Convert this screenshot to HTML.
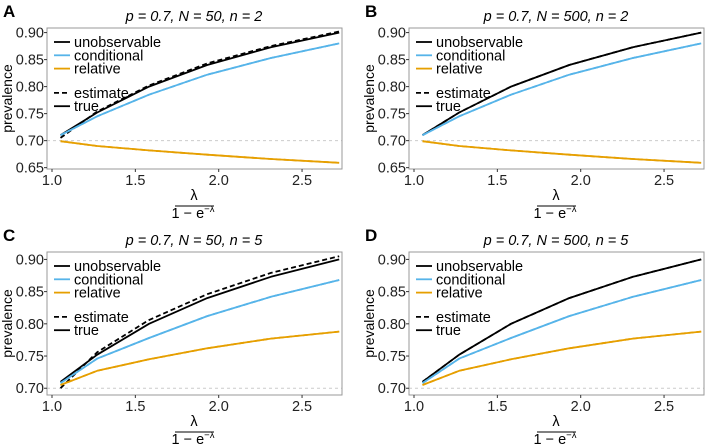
<!DOCTYPE html>
<html><head><meta charset="utf-8"><style>
body{margin:0;background:#fff}
svg{display:block;font-family:"Liberation Sans",sans-serif}
</style></head><body>
<svg id="s" width="708" height="447" viewBox="0 0 708 447"></svg>
<script>
const xs=[1.051,1.271,1.582,1.931,2.313,2.723];
const xTicks=[1.0,1.5,2.0,2.5];
const titles=["p = 0.7, N = 50, n = 2","p = 0.7, N = 500, n = 2","p = 0.7, N = 50, n = 5","p = 0.7, N = 500, n = 5"];
const letters=["A","B","C","D"];
const yTicksTop=[0.65,0.70,0.75,0.80,0.85,0.90];
const yTicksBot=[0.70,0.75,0.80,0.85,0.90];
const unobTrue=[0.710,0.752,0.800,0.840,0.873,0.900];
const unobEstA=[0.705,0.754,0.802,0.843,0.875,0.902];
const unobEstC=[0.700,0.756,0.806,0.846,0.879,0.905];
const condTop=[0.710,0.745,0.785,0.822,0.853,0.880];
const condBot=[0.708,0.746,0.778,0.812,0.842,0.868];
const relTop=[0.699,0.690,0.682,0.674,0.666,0.659];
const relBot=[0.705,0.727,0.745,0.762,0.777,0.788];
const C={unob:"#000",cond:"#56B4E9",rel:"#E69F00"};
const S=document.getElementById('s');const NS="http://www.w3.org/2000/svg";
function el(t,a,p){const e=document.createElementNS(NS,t);for(const k in a)e.setAttribute(k,a[k]);(p||S).appendChild(e);return e;}
const panels=[
 {ox:0,oy:0,ymin:0.6475,ymax:0.9085,ticks:yTicksTop,series:[["unob",unobTrue,unobEstA],["cond",condTop,condTop],["rel",relTop,relTop]]},
 {ox:362,oy:0,ymin:0.6475,ymax:0.9085,ticks:yTicksTop,series:[["unob",unobTrue,unobTrue],["cond",condTop,condTop],["rel",relTop,relTop]]},
 {ox:0,oy:224,ymin:0.6895,ymax:0.9115,ticks:yTicksBot,series:[["unob",unobTrue,unobEstC],["cond",condBot,condBot],["rel",relBot,relBot]]},
 {ox:362,oy:224,ymin:0.6895,ymax:0.9115,ticks:yTicksBot,series:[["unob",unobTrue,unobTrue],["cond",condBot,condBot],["rel",relBot,relBot]]}];
panels.forEach((P,i)=>{
 const g=el('g',{transform:`translate(${P.ox},${P.oy})`});
 
 
 const L=47,R=342,T=28,B=i<2?169:171;
 const X=v=>52+(v-1)*166.7, Y=v=>B-(v-P.ymin)/(P.ymax-P.ymin)*(B-T);
 const lt=el('text',{x:3,y:17,'font-size':17,'font-weight':'bold'},g);lt.textContent=letters[i];
 
 const tt=el('text',{x:194,y:21,'font-size':14.5,'font-style':'italic','text-anchor':'middle'},g);tt.textContent=titles[i];
 
 el('line',{x1:L,x2:R,y1:Y(0.7),y2:Y(0.7),stroke:'#ccc','stroke-dasharray':'3,3','stroke-width':1},g);
 P.series.forEach(([k,tr,es])=>{
  const pt=a=>a.map((v,j)=>X(xs[j]).toFixed(1)+','+Y(v).toFixed(1)).join(' ');
  const p1=el('polyline',{points:pt(tr),fill:'none',stroke:C[k],'stroke-width':1.8,'stroke-linejoin':'round'},g);
  
  const p2=el('polyline',{points:pt(es),fill:'none',stroke:C[k],'stroke-width':1.8,'stroke-dasharray':'5,3'},g);
  
 });
 el('rect',{x:L,y:T,width:R-L,height:B-T,fill:'none',stroke:'#999','stroke-width':1},g);
 P.ticks.forEach(v=>{
  el('line',{x1:L-3,x2:L,y1:Y(v),y2:Y(v),stroke:'#333'},g);
  const t=el('text',{x:L-3,y:Y(v)+5,'font-size':14.5,'text-anchor':'end',fill:'#222'},g);t.textContent=v.toFixed(2);
  
 });
 xTicks.forEach(v=>{
  el('line',{x1:X(v),x2:X(v),y1:B,y2:B+3,stroke:'#333'},g);
  const t=el('text',{x:X(v),y:B+16,'font-size':14.5,'text-anchor':'middle',fill:'#222'},g);t.textContent=v.toFixed(1);
  
 });
 const yl=el('text',{transform:`translate(12,${(T+B)/2}) rotate(-90)`,'font-size':14,'text-anchor':'middle'},g);yl.textContent='prevalence';
 
 const xl=el('g',{},g);
 const a=el('text',{x:194,y:B+31,'font-size':14.5,'text-anchor':'middle'},xl);a.textContent='λ';
 el('line',{x1:175,x2:214,y1:B+37,y2:B+37,stroke:'#000'},xl);
 const b=el('text',{x:193,y:B+49,'font-size':14.5,'text-anchor':'middle'},xl);b.innerHTML='1 − e<tspan font-size="9.5" dy="-6">−λ</tspan>';
 const lg=el('g',{},g);
 [["unobservable","#000",0],["conditional",C.cond,0],["relative",C.rel,0],["estimate","#000",1],["true","#000",0]].forEach(([n,c,d],j)=>{
  const y=42+j*13.3+(j>=3?11:0);
  el('line',{x1:54,x2:70,y1:y,y2:y,stroke:c,'stroke-width':1.8,'stroke-dasharray':d?'5,3':'none'},lg);
  const t=el('text',{x:74,y:y+5,'font-size':14.5},lg);t.textContent=n;
  
 });
});
</script>
</body></html>
